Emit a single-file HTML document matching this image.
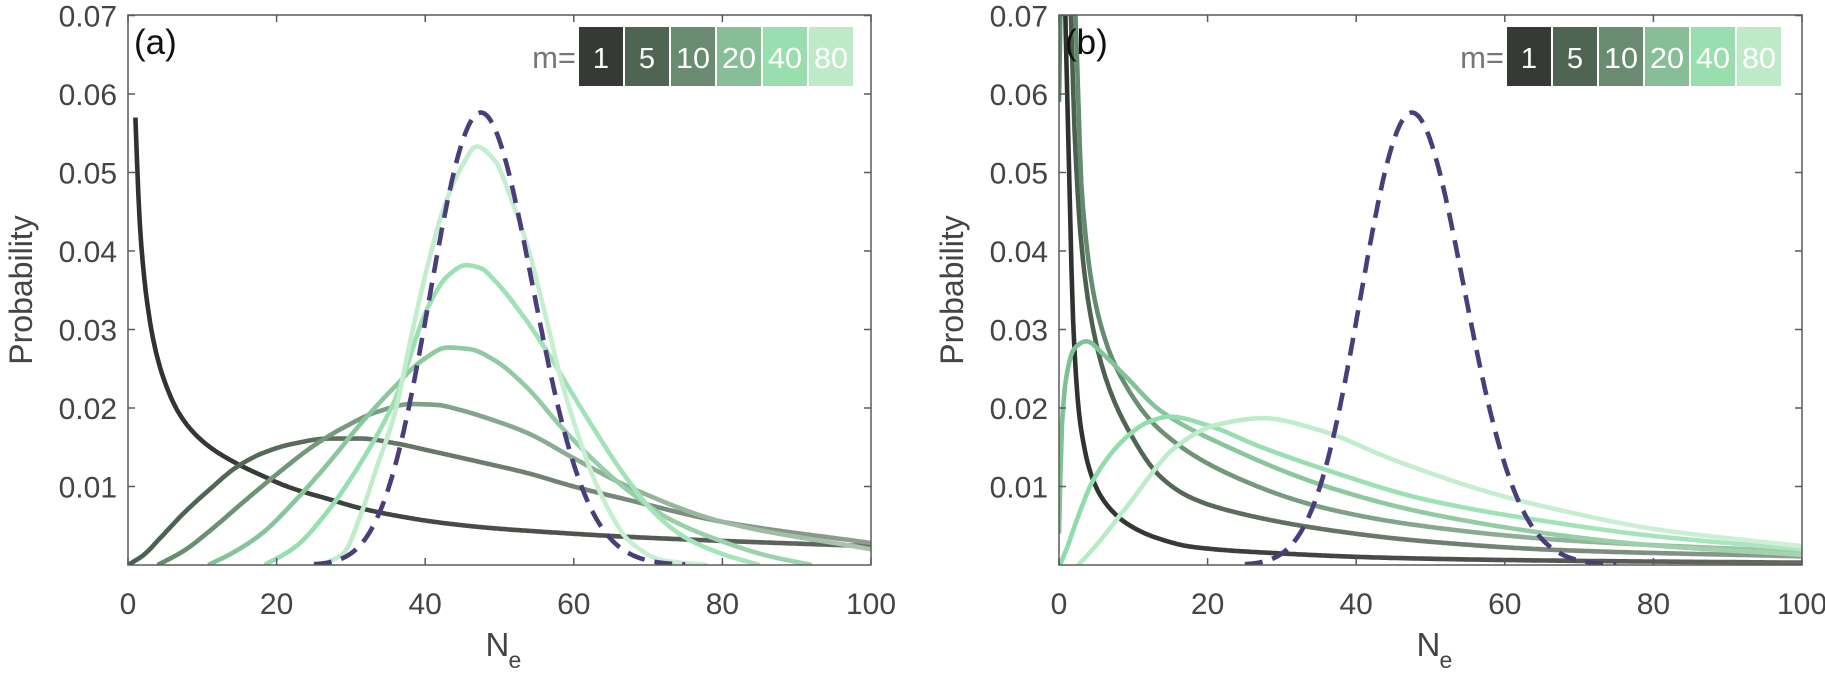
<!DOCTYPE html>
<html><head><meta charset="utf-8">
<style>
html,body{margin:0;padding:0;background:#fff;}
svg{display:block;}
text{font-family:"Liberation Sans",sans-serif;}
</style></head>
<body>
<svg id="s" width="1825" height="673" viewBox="0 0 1825 673" xmlns="http://www.w3.org/2000/svg">
<defs>
<clipPath id="ca"><rect x="128" y="15" width="743" height="550"/></clipPath>
<clipPath id="cb"><rect x="1059" y="15" width="743" height="550"/></clipPath>
</defs>
<rect width="1825" height="673" fill="#fff"/>
<g id="g"></g>
</svg>
<script>
var NS="http://www.w3.org/2000/svg";
var svg=document.getElementById('s'), G=document.getElementById('g'), defs=svg.querySelector('defs');
function el(t,a,p){var e=document.createElementNS(NS,t);for(var k in a)e.setAttribute(k,a[k]);(p||G).appendChild(e);return e;}
var cols=[["#2e322e","#646b61"],["#4a5e4e","#8e9e90"],["#62896c","#a9c6ae"],["#7fc194","#a3d4b0"],["#8fdcab","#abe7bf"],["#b9ebc7","#cff0d7"]];
var legCols=["#363a35","#4f6453","#6b8b70","#87bd97","#99deae","#bfeac8"];
var legTxt=["1","5","10","20","40","80"];
function mono(P){
 var n=P.length,xs=P.map(p=>p[0]),ys=P.map(p=>p[1]),d=[],m=[];
 for(var i=0;i<n-1;i++)d.push((ys[i+1]-ys[i])/(xs[i+1]-xs[i]));
 m[0]=d[0];m[n-1]=d[n-2];
 for(i=1;i<n-1;i++){ if(d[i-1]*d[i]<=0)m[i]=0; else{var w1=2*(xs[i+1]-xs[i])+(xs[i]-xs[i-1]),w2=(xs[i+1]-xs[i])+2*(xs[i]-xs[i-1]);m[i]=(w1+w2)/(w1/d[i-1]+w2/d[i]);}}
 return function(x){var i=0;while(i<n-2&&x>xs[i+1])i++;var h=xs[i+1]-xs[i],t=(x-xs[i])/h,t2=t*t,t3=t2*t;
  return (2*t3-3*t2+1)*ys[i]+(t3-2*t2+t)*h*m[i]+(-2*t3+3*t2)*ys[i+1]+(t3-t2)*h*m[i+1];};
}
function panel(x0,clip,curves,lab,legX){
 var W=743,x1=x0+W,yb=565,yt=15,sx=W/100,sy=7850;
 var X=v=>x0+v*sx,Y=v=>yb-v*sy;
 curves.forEach(function(P,ci){
  var gid='gr'+clip+ci;var lg=el('linearGradient',{id:gid,gradientUnits:'userSpaceOnUse',x1:x0,y1:0,x2:x1,y2:0},defs);
  el('stop',{offset:'0',"stop-color":cols[ci][0]},lg);el('stop',{offset:'1',"stop-color":cols[ci][1]},lg);
  var f=mono(P),a=P[0][0],b=P[P.length-1][0],pts=[];
  for(var k=0;k<=500;k++){var x=a+(b-a)*k/500;pts.push(X(x).toFixed(1)+','+Y(f(x)).toFixed(1));}
  el('polyline',{points:pts.join(' '),fill:'none',stroke:'url(#'+gid+')','stroke-width':4.6,'stroke-linejoin':'round','clip-path':'url(#'+clip+')'});
 });
 var pts=[];for(var k=0;k<=500;k++){var x=25+50*k/500;var lp=-48+x*Math.log(48)-lg_(x+1);pts.push(X(x).toFixed(1)+','+Y(Math.exp(lp)).toFixed(1));}
 el('polyline',{points:pts.join(' '),fill:'none',stroke:'#4a3e7a','stroke-width':4.6,'stroke-dasharray':'18 10','clip-path':'url(#'+clip+')'});
 el('rect',{x:x0,y:yt,width:W,height:yb-yt,fill:'none',stroke:'#5a5a5a','stroke-width':1.5});
 for(var i=0;i<=5;i++){var xx=X(i*20);
  el('line',{x1:xx,y1:yb,x2:xx,y2:yb-7,stroke:'#5a5a5a','stroke-width':1.5});
  el('line',{x1:xx,y1:yt,x2:xx,y2:yt+7,stroke:'#5a5a5a','stroke-width':1.5});
  var t=el('text',{x:xx,y:614,'font-size':30,fill:'#444','text-anchor':'middle'});t.textContent=String(i*20);}
 for(i=1;i<=7;i++){var yy=Y(i*0.01);
  el('line',{x1:x0,y1:yy,x2:x0+7,y2:yy,stroke:'#5a5a5a','stroke-width':1.5});
  el('line',{x1:x1,y1:yy,x2:x1-7,y2:yy,stroke:'#5a5a5a','stroke-width':1.5});
  t=el('text',{x:x0-11,y:yy+11,'font-size':30,fill:'#444','text-anchor':'end'});t.textContent='0.0'+i;}
 t=el('text',{x:0,y:0,'font-size':32,fill:'#444','text-anchor':'middle',transform:'translate('+(x0-96)+',290) rotate(-90)'});t.textContent='Probability';
 t=el('text',{x:x0+W/2-14,y:656,'font-size':33,fill:'#444'});t.textContent='N';
 t=el('text',{x:x0+W/2+9,y:668,'font-size':23,fill:'#444'});t.textContent='e';
 t=el('text',{x:x0+6,y:54,'font-size':35,fill:'#111'});t.textContent=lab;
 t=el('text',{x:legX-3,y:68,'font-size':31,fill:'#777','text-anchor':'end'});t.textContent='m=';
 for(i=0;i<6;i++){var bx=legX+i*46;el('rect',{x:bx,y:27,width:44,height:59,fill:legCols[i]});
  t=el('text',{x:bx+22,y:68,'font-size':29,fill:'#fff','text-anchor':'middle'});t.textContent=legTxt[i];
  if(legTxt[i].length>1){t.setAttribute('textLength','34');t.setAttribute('lengthAdjust','spacingAndGlyphs');}}
}
function lg_(z){
 var g=7,c=[0.99999999999980993,676.5203681218851,-1259.1392167224028,771.32342877765313,-176.61503916999185,12.507343278686905,-0.13857109526572012,9.9843695780195716e-6,1.5056327351493116e-7];
 z-=1;var x=c[0];for(var i=1;i<g+2;i++)x+=c[i]/(z+i);var t=z+g+0.5;return 0.5*Math.log(2*Math.PI)+(z+0.5)*Math.log(t)-t+Math.log(x);}
var A=[
 [[1,0.057],[1.4,0.047],[1.8,0.0406],[2.5,0.0340],[3.6,0.0278],[5,0.0232],[6.7,0.0196],[8.7,0.0170],[11.2,0.0149],[14.5,0.0130],[18,0.0114],[22,0.0098],[27,0.0084],[31,0.0073],[36,0.0063],[42,0.0054],[49,0.0047],[58,0.0041],[67,0.0036],[82,0.003],[100,0.0024]],
 [[0,0],[2,0.0012],[4.5,0.0036],[7.5,0.0066],[11.2,0.0098],[14.5,0.0124],[18,0.0142],[22,0.0154],[27,0.0161],[31.4,0.0161],[36,0.0155],[40.4,0.0146],[47,0.0132],[53.8,0.0117],[60,0.0100],[67.3,0.0083],[80,0.0055],[100,0.0028]],
 [[4,0],[7.5,0.0018],[11.2,0.0045],[15.5,0.0080],[20.2,0.0117],[25,0.0152],[29.2,0.0176],[33.5,0.0195],[38.1,0.0205],[41.5,0.0204],[44.9,0.0197],[49,0.0185],[53.8,0.0168],[60,0.0136],[67.3,0.01],[80,0.0055],[100,0.002]],
 [[10.8,0],[14,0.0015],[18,0.004],[22.5,0.0082],[27,0.013],[31.5,0.0182],[35.9,0.0227],[39.5,0.0260],[43,0.0277],[46,0.0275],[49.3,0.0261],[53.5,0.0228],[58.3,0.0176],[62.5,0.0135],[67.3,0.0095],[73,0.0058],[80,0.0030],[86,0.0012],[92,0]],
 [[18.4,0],[22.5,0.0023],[27,0.007],[31.5,0.0133],[35.9,0.021],[40.4,0.0329],[43,0.0368],[45.5,0.0382],[47.5,0.0378],[49.3,0.0363],[52.5,0.0326],[56,0.0278],[59.5,0.0223],[62.8,0.0172],[67.3,0.0108],[71,0.0065],[75,0.0035],[80,0.0014],[85,0]],
 [[26,0],[29,0.0015],[31.4,0.0066],[33.5,0.0125],[35.9,0.0193],[38,0.0286],[40.4,0.0384],[42.5,0.0455],[44.9,0.0507],[46.9,0.0533],[49.3,0.0516],[51.5,0.0468],[53.8,0.0405],[56,0.0325],[58.3,0.0236],[60.5,0.0168],[62.8,0.0108],[65,0.0065],[67.3,0.0032],[72,0.0006],[78,0]]
];
var B=[
 [[0.7,0.078],[0.81,0.072],[1.35,0.0507],[1.9,0.031],[2.8,0.0185],[4.6,0.0108],[6.5,0.0076],[9.1,0.0053],[13,0.0035],[18,0.0023],[29.3,0.0015],[45,0.0009],[67.4,0.00055],[100,0.0003]],
 [[1.3,0.08],[1.6,0.07],[2.2,0.053],[3,0.041],[4.4,0.031],[6.5,0.0232],[9.1,0.0176],[13.6,0.0113],[17.5,0.0087],[22.6,0.007],[36,0.0045],[49.5,0.003],[67.4,0.0019],[100,0.0011]],
 [[0,0.059],[0.35,0.078],[1,0.09],[2.0,0.075],[2.3,0.068],[3.1,0.047],[5.5,0.031],[9.1,0.0227],[13.6,0.0172],[22.6,0.0117],[36,0.0072],[49.5,0.0049],[67.4,0.0032],[100,0.0017]],
 [[0,0.004],[0.4,0.018],[1,0.024],[2,0.0275],[3.7,0.0285],[6,0.0268],[9,0.024],[13.6,0.0197],[22.6,0.0151],[36,0.01],[49.5,0.0066],[67.4,0.0038],[80,0.0025],[100,0.0013]],
 [[0.13,0],[1,0.002],[2.5,0.006],[4.6,0.0108],[9.1,0.0163],[12,0.0182],[14.9,0.0189],[20,0.0178],[27,0.0151],[36,0.0121],[49.5,0.0083],[67.4,0.0053],[80,0.0037],[100,0.002]],
 [[2.6,0],[5,0.0025],[9.1,0.0074],[15.8,0.0151],[21,0.0178],[27.5,0.0187],[35,0.0172],[45,0.0134],[58.5,0.0091],[67.4,0.007],[80,0.0046],[100,0.0024]]
];
panel(128,'ca',A,'(a)',579);
panel(1059,'cb',B,'(b)',1507);
</script>
</body></html>
